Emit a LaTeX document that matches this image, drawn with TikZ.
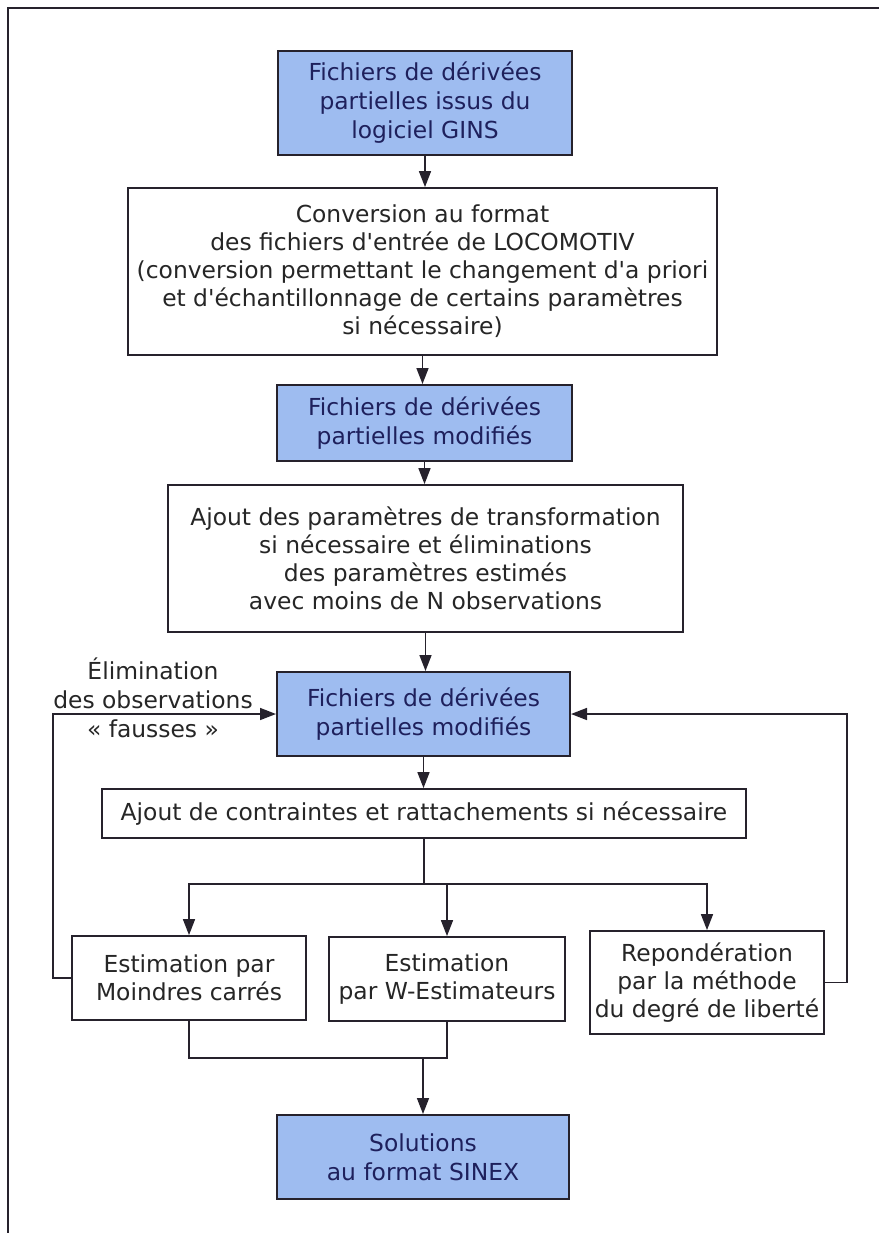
\documentclass[tikz,border=0pt]{standalone}
\usepackage{fontspec}
\setmainfont{DejaVu Sans}
\usepackage{tikz}
\usetikzlibrary{arrows.meta}
\usepackage{xcolor}

\definecolor{bleufond}{RGB}{158,188,240}
\definecolor{bleutexte}{RGB}{30,32,92}
\definecolor{trait}{RGB}{38,34,44}

\tikzset{
  boite/.style={draw=trait, line width=0.9pt, fill=white, text=black!85, align=center, inner sep=0pt,
    font=\fontsize{11.7}{14}\selectfont},
  boitebleue/.style={boite, fill=bleufond, text=bleutexte, line width=1pt,
    font=\fontsize{11.7}{14.5}\selectfont},
  fleche/.style={draw=trait, line width=0.8pt, -{Triangle[length=8pt,width=6pt]}},
  lien/.style={draw=trait, line width=0.8pt},
}

\begin{document}
\begin{tikzpicture}[x=0.5pt,y=-0.5pt]
\useasboundingbox (0,0) rectangle (879,1233);
\draw[line width=0.8pt, trait] (8,1233) -- (8,8) -- (879,8);

\node[boitebleue, minimum width=147pt, minimum height=52pt] (gins) at (425,103)
  {Fichiers de dérivées\\partielles issus du\\logiciel GINS};
\node[boite, minimum width=294.5pt, minimum height=83.5pt] (conv) at (422.5,271.5)
  {Conversion au format\\des fichiers d\textquotesingle entrée de LOCOMOTIV\\(conversion permettant le changement d\textquotesingle a priori\\et d\textquotesingle échantillonnage de certains paramètres\\si nécessaire)};
\node[boitebleue, minimum width=147.5pt, minimum height=38pt] (modifA) at (424.5,423)
  {Fichiers de dérivées\\partielles modifiés};
\node[boite, minimum width=257.5pt, minimum height=73.5pt] (ajout) at (425.5,558.5)
  {Ajout des paramètres de transformation\\si nécessaire et éliminations\\des paramètres estimés\\avec moins de N observations};
\node[boitebleue, minimum width=146.5pt, minimum height=42pt] (modifB) at (423.5,714)
  {Fichiers de dérivées\\partielles modifiés};
\node[boite, minimum width=322pt, minimum height=24.5pt] (contr) at (424,813.5)
  {Ajout de contraintes et rattachements si nécessaire};
\node[boite, minimum width=117pt, minimum height=42pt] (mc) at (189,978)
  {Estimation par\\Moindres carrés};
\node[boite, minimum width=118pt, minimum height=42pt] (west) at (447,979)
  {Estimation\\par W-Estimateurs};
\node[boite, minimum width=117pt, minimum height=51.5pt] (repond) at (707,982.5)
  {Repondération\\par la méthode\\du degré de liberté};
\node[boitebleue, minimum width=146pt, minimum height=42pt] (sinex) at (423,1157)
  {Solutions\\au format SINEX};
\node[align=center, text=black!85, font=\fontsize{11.7}{14.5}\selectfont] (elim) at (153,698)
  {Élimination\\des observations\\«~fausses~»};

\draw[fleche] (gins.south) -- (gins.south |- conv.north);
\draw[fleche] (conv.south) -- (conv.south |- modifA.north);
\draw[fleche] (modifA.south) -- (modifA.south |- ajout.north);
\draw[fleche] (ajout.south) -- (ajout.south |- modifB.north);
\draw[fleche] (modifB.south) -- (modifB.south |- contr.north);

% vers les trois estimations
\draw[lien] (contr.south) -- ++(0,45) coordinate (split);
\draw[fleche] (split) -| (mc.north);
\draw[fleche] (split) -| (west.north);
\draw[fleche] (split) -| (repond.north);

% boucles de retour
\coordinate (retourG) at (53,0);
\coordinate (retourD) at (847,0);
\draw[fleche] (mc.west) -- (mc.west -| retourG) |- (modifB.west);
\draw[fleche] (repond.east) -- (repond.east -| retourD) |- (modifB.east);

\coordinate (fusion) at (423,1058);
\draw[lien] (mc.south) |- (fusion) -| (west.south);
\draw[fleche] (fusion) -- (fusion |- sinex.north);
\end{tikzpicture}
\end{document}
